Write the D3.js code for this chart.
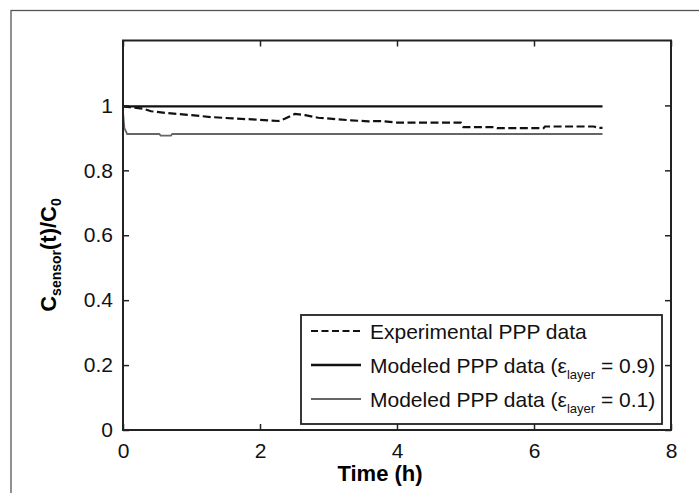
<!DOCTYPE html>
<html>
<head>
<meta charset="utf-8">
<script src="https://cdn.jsdelivr.net/npm/d3@7"></script>
<style>
  body { margin: 0; background: #fff; }
  svg { font-family: "Liberation Sans", Arial, sans-serif; }
</style>
</head>
<body>
<div id="chart"></div>
<script>
var width = 699,
    height = 493;

var expTime = [0, 0.1, 0.29, 0.41, 0.66, 1.0, 1.29, 1.6, 1.97, 2.27, 2.36, 2.51, 2.66, 2.85, 3.33, 3.58, 3.76, 4.0, 4.93, 4.97, 5.41, 5.46, 6.14, 6.16, 6.87, 6.95, 7.0];
var expValue = [0.997, 0.995, 0.990, 0.982, 0.976, 0.970, 0.964, 0.960, 0.956, 0.952, 0.959, 0.974, 0.970, 0.962, 0.954, 0.951, 0.952, 0.947, 0.947, 0.933, 0.933, 0.930, 0.930, 0.935, 0.935, 0.931, 0.931];

// modeled, eps_layer = 0.9
var model09Time = [0, 0.03, 7];
var model09Value = [1.0, 0.997, 0.997];

// modeled, eps_layer = 0.1
var model01Time = [0, 0.02, 0.06, 0.53, 0.55, 0.70, 0.72, 7];
var model01Value = [0.98, 0.93, 0.912, 0.912, 0.907, 0.907, 0.912, 0.912];

var xTicks = [0, 2, 4, 6, 8];
var yTicks = [0, 0.2, 0.4, 0.6, 0.8, 1];

var axLeft = 123, axRight = 671, axTop = 40.5, axBottom = 430;

var x = d3.scaleLinear().domain([0, 8]).range([axLeft, axRight]);
var y = d3.scaleLinear().domain([0, 1.2]).range([axBottom, axTop]);

var svg = d3.select("#chart").append("svg")
    .attr("width", width)
    .attr("height", height);

// outer figure frame (cut by the image edge)
svg.append("rect")
    .attr("x", 11).attr("y", 10.5)
    .attr("width", 720).attr("height", 520)
    .attr("fill", "none")
    .attr("stroke", "#555")
    .attr("stroke-width", 1.3);

function zip(ts, vs) {
  return ts.map(function(t, i) { return [t, vs[i]]; });
}

var line = d3.line()
    .x(function(d) { return x(d[0]); })
    .y(function(d) { return y(d[1]); });

var g = svg.append("g");

g.append("path")
    .datum(zip(model01Time, model01Value))
    .attr("d", line)
    .attr("fill", "none")
    .attr("stroke", "#666")
    .attr("stroke-width", 1.8);

g.append("path")
    .datum(zip(model09Time, model09Value))
    .attr("d", line)
    .attr("fill", "none")
    .attr("stroke", "#111")
    .attr("stroke-width", 2.2);

g.append("path")
    .datum(zip(expTime, expValue))
    .attr("d", line)
    .attr("fill", "none")
    .attr("stroke", "#111")
    .attr("stroke-width", 2.2)
    .attr("stroke-dasharray", "8,3.5");

// axes, ticks on all four sides pointing inward
var tickLen = 6;
function styleAxis(sel) {
  sel.select(".domain").remove();
  sel.selectAll(".tick line").attr("stroke", "#222").attr("stroke-width", 1.5);
  sel.selectAll(".tick text").attr("fill", "#111").style("font-size", "21px");
}

svg.append("g")
    .attr("transform", "translate(0," + axBottom + ")")
    .call(d3.axisBottom(x).tickValues(xTicks).tickSizeInner(-tickLen).tickSizeOuter(0).tickPadding(13).tickFormat(d3.format("d")))
    .call(styleAxis);

svg.append("g")
    .attr("transform", "translate(0," + axTop + ")")
    .call(d3.axisTop(x).tickValues(xTicks).tickSizeInner(-tickLen).tickSizeOuter(0).tickFormat(""))
    .call(styleAxis);

svg.append("g")
    .attr("transform", "translate(" + axLeft + ",0)")
    .call(d3.axisLeft(y).tickValues(yTicks).tickSizeInner(-tickLen).tickSizeOuter(0).tickPadding(10).tickFormat(function(d) { return d === 0 || d === 1 ? d : d3.format(".1f")(d); }))
    .call(styleAxis);

svg.append("g")
    .attr("transform", "translate(" + axRight + ",0)")
    .call(d3.axisRight(y).tickValues(yTicks).tickSizeInner(-tickLen).tickSizeOuter(0).tickFormat(""))
    .call(styleAxis);

svg.append("rect")
    .attr("x", axLeft).attr("y", axTop)
    .attr("width", axRight - axLeft).attr("height", axBottom - axTop)
    .attr("fill", "none")
    .attr("stroke", "#222")
    .attr("stroke-width", 2);

// axis labels
svg.append("text")
    .attr("x", 380).attr("y", 481)
    .attr("text-anchor", "middle")
    .style("font-size", "22px")
    .style("font-weight", "bold")
    .text("Time (h)");

var yl = svg.append("text")
    .attr("transform", "translate(56,255) rotate(-90)")
    .attr("text-anchor", "middle")
    .style("font-size", "22px")
    .style("font-weight", "bold");
yl.append("tspan").text("C");
yl.append("tspan").attr("dy", 5).style("font-size", "14px").text("sensor");
yl.append("tspan").attr("dy", -5).text("(t)/C");
yl.append("tspan").attr("dy", 5).style("font-size", "14px").text("0");

// legend
var legend = svg.append("g");
legend.append("rect")
    .attr("x", 301).attr("y", 315)
    .attr("width", 361).attr("height", 109)
    .attr("fill", "#fff")
    .attr("stroke", "#222")
    .attr("stroke-width", 1.8);

var legendRows = [
  {label: "Experimental PPP data", eps: null, color: "#111", w: 2.2, dash: "7,3.5"},
  {label: "Modeled PPP data (ε", eps: "0.9", color: "#111", w: 2.4, dash: null},
  {label: "Modeled PPP data (ε", eps: "0.1", color: "#666", w: 1.8, dash: null}
];

legendRows.forEach(function(r, i) {
  var cy = 331 + i * 34;
  legend.append("line")
      .attr("x1", 311).attr("x2", 361)
      .attr("y1", cy).attr("y2", cy)
      .attr("stroke", r.color)
      .attr("stroke-width", r.w)
      .attr("stroke-dasharray", r.dash);
  var t = legend.append("text")
      .attr("x", 370).attr("y", cy + 8)
      .style("font-size", "21px")
      .attr("fill", "#111");
  t.append("tspan").text(r.label);
  if (r.eps) {
    t.append("tspan").attr("dy", 6).style("font-size", "13px").text("layer");
    t.append("tspan").attr("dy", -6).text(" = " + r.eps + ")");
  }
});
</script>
</body>
</html>
